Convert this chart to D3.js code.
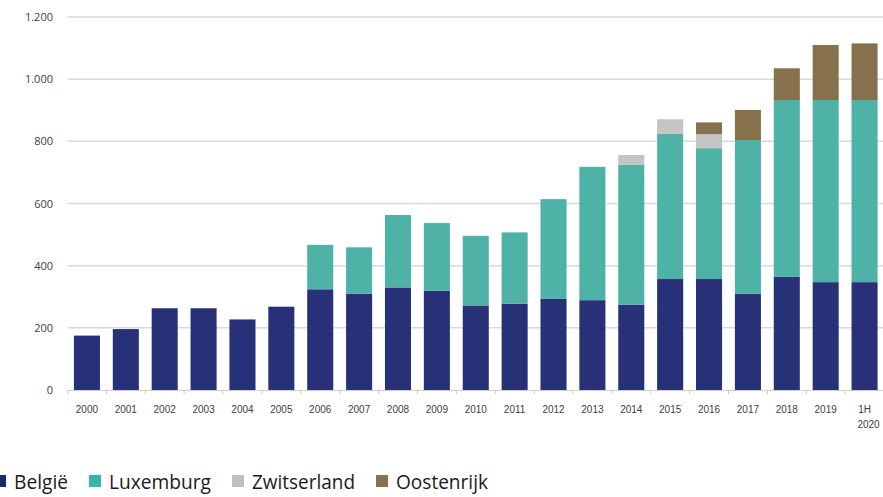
<!DOCTYPE html>
<html>
<head>
<meta charset="utf-8">
<script src="https://cdn.jsdelivr.net/npm/d3@7"></script>
<style>
  html, body { margin: 0; padding: 0; background: #fff; }
  svg { display: block; }
</style>
</head>
<body>
<div id="chart"></div>
<script>
// Jaren (laatste categorie is het eerste halfjaar van 2020)
const categories = ["2000","2001","2002","2003","2004","2005","2006","2007","2008","2009","2010",
  "2011","2012","2013","2014","2015","2016","2017","2018","2019","1H 2020"];

// Waarden per land
const belgie      = [175,196,263,263,227,268,324,310,330,319,272,278,293,289,274,357,357,310,364,347,347];
const luxemburg   = [0,0,0,0,0,0,143,149,233,218,224,229,321,429,450,467,421,494,569,586,586];
const zwitserland = [0,0,0,0,0,0,0,0,0,0,0,0,0,0,32,47,45,0,0,0,0];
const oostenrijk  = [0,0,0,0,0,0,0,0,0,0,0,0,0,0,0,0,38,97,102,177,182];

const seriesNames = ["België","Luxemburg","Zwitserland","Oostenrijk"];
const yTicks = [0,200,400,600,800,1000,1200];

const colors = {
  "België": "#283178",
  "Luxemburg": "#4fb2a6",
  "Zwitserland": "#c4c4c4",
  "Oostenrijk": "#86714c"
};
const legendColors = {
  "België": "#1b2a6b",
  "Luxemburg": "#36b5aa",
  "Zwitserland": "#c0c0c0",
  "Oostenrijk": "#84754e"
};

const W = 883, H = 497;
const margin = {left: 67.5, right: -1, top: 17, bottom: 107};

const rows = categories.map((c, i) => ({
  cat: c,
  "België": belgie[i],
  "Luxemburg": luxemburg[i],
  "Zwitserland": zwitserland[i],
  "Oostenrijk": oostenrijk[i]
}));

const svg = d3.select("#chart").append("svg")
  .attr("width", W).attr("height", H);

const x = d3.scaleBand()
  .domain(categories)
  .range([margin.left, W - margin.right])
  .paddingInner(0.33)
  .paddingOuter(0.165);

const y = d3.scaleLinear()
  .domain([0, 1200])
  .range([H - margin.bottom, margin.top]);

// Horizontale rasterlijnen
svg.append("g")
  .selectAll("line")
  .data(yTicks.filter(d => d > 0))
  .join("line")
  .attr("x1", margin.left)
  .attr("x2", W)
  .attr("y1", d => y(d))
  .attr("y2", d => y(d))
  .attr("stroke", "#d9d9d9")
  .attr("stroke-width", 1.5);

// Y-as labels
const fmt = d => d3.format(",")(d).replace(/,/g, ".");
const yAxis = d3.axisLeft(y).tickValues(yTicks).tickFormat(fmt).tickSize(0).tickPadding(0);
const gy = svg.append("g")
  .attr("transform", `translate(${53},0)`)
  .call(yAxis);
gy.select(".domain").remove();
gy.selectAll("text")
  .attr("font-family", "'Open Sans', 'Noto Sans', sans-serif")
  .attr("font-size", 11)
  .attr("fill", "#404040");

// Gestapelde staven
const stack = d3.stack().keys(seriesNames);
const stacked = stack(rows);

svg.append("g")
  .selectAll("g")
  .data(stacked)
  .join("g")
  .attr("fill", d => colors[d.key])
  .selectAll("rect")
  .data(d => d)
  .join("rect")
  .attr("x", d => x(d.data.cat))
  .attr("width", x.bandwidth())
  .attr("y", d => y(d[1]))
  .attr("height", d => y(d[0]) - y(d[1]));

// X-as met kleine streepjes tussen categorieën
const y0 = y(0);
svg.append("line")
  .attr("x1", margin.left).attr("x2", W)
  .attr("y1", y0 + 0.5).attr("y2", y0 + 0.5)
  .attr("stroke", "#d0d0d0").attr("stroke-width", 1);

const step = x.step();
const boundaries = d3.range(categories.length + 1).map(i => margin.left + i * step);
svg.append("g")
  .selectAll("line")
  .data(boundaries)
  .join("line")
  .attr("x1", d => d).attr("x2", d => d)
  .attr("y1", y0).attr("y2", y0 + 4)
  .attr("stroke", "#c8c8c8").attr("stroke-width", 1);

// X-as labels
const xl = svg.append("g")
  .selectAll("text")
  .data(categories)
  .join("text")
  .attr("x", d => x(d) + x.bandwidth() / 2)
  .attr("y", 413)
  .attr("text-anchor", "middle")
  .attr("font-family", "'Liberation Sans Narrow', 'Liberation Sans', sans-serif")
  .attr("font-size", 10)
  .attr("fill", "#404040");
xl.each(function(d) {
  const parts = d.split(" ");
  const t = d3.select(this);
  parts.forEach((p, i) => {
    t.append("tspan")
      .attr("x", x(d) + x.bandwidth() / 2 + (i > 0 ? 4 : 0))
      .attr("dy", i === 0 ? 0 : 15)
      .text(p);
  });
});

// Legenda
const legendItems = [
  {name: "België",      sx: -6,  tx: 14,  w: 54},
  {name: "Luxemburg",   sx: 89,  tx: 109, w: 102},
  {name: "Zwitserland", sx: 232, tx: 252, w: 103},
  {name: "Oostenrijk",  sx: 376, tx: 396, w: 92}
];
const lg = svg.append("g");
lg.selectAll("rect")
  .data(legendItems)
  .join("rect")
  .attr("x", d => d.sx)
  .attr("y", 475)
  .attr("width", 12)
  .attr("height", 12)
  .attr("fill", d => legendColors[d.name]);
lg.selectAll("text")
  .data(legendItems)
  .join("text")
  .attr("x", d => d.tx)
  .attr("y", 489)
  .attr("font-family", "'Open Sans', 'Noto Sans', sans-serif")
  .attr("font-size", 20)
  .attr("textLength", d => d.w)
  .attr("lengthAdjust", "spacingAndGlyphs")
  .attr("fill", "#1a1a1a")
  .text(d => d.name);
</script>
</body>
</html>
